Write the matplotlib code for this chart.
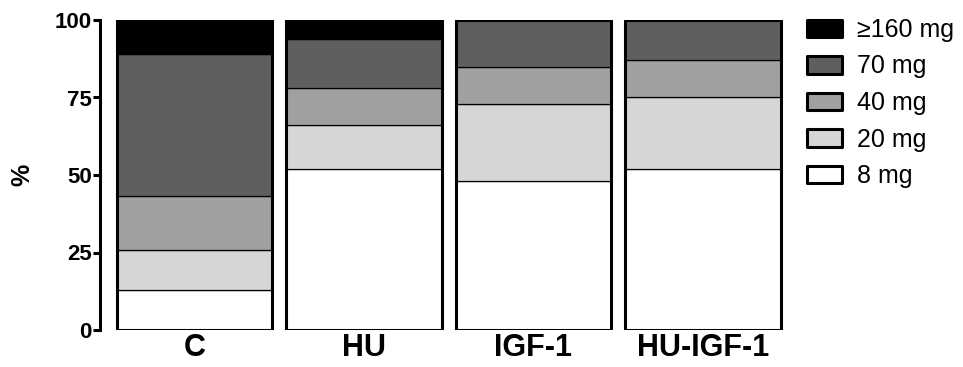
import numpy as np
import matplotlib.pyplot as plt

plt.rcParams['font.family'] = ['Liberation Sans', 'DejaVu Sans']

groups = ['C', 'HU', 'IGF-1', 'HU-IGF-1']
doses = ['8 mg', '20 mg', '40 mg', '70 mg', '\u2265160 mg']
# percent of each dose class per group (bottom to top)
mg8 = [13, 52, 48, 52]
mg20 = [12.7, 14, 25, 23.2]
mg40 = [17.5, 12.1, 11.8, 11.9]
mg70 = [45.8, 15.7, 15.2, 12.9]
mg160 = [11, 6.2, 0, 0]
colors = ['#ffffff', '#d6d6d6', '#a0a0a0', '#5f5f5f', '#000000']
yticks = [0, 25, 50, 75, 100]

series = [mg8, mg20, mg40, mg70, mg160]

fig = plt.figure(figsize=(9.63, 3.67), dpi=100)
ax = fig.add_axes([100 / 963, 37 / 367, (787.75 - 100) / 963, 310 / 367])

x = np.arange(len(groups))
w = 0.915
bottom = np.zeros(len(groups))
handles = []
for vals, col, lab in zip(series, colors, doses):
    b = ax.bar(x, vals, w, bottom=bottom, color=col, edgecolor='black',
               linewidth=0.9, label=lab)
    handles.append(b)
    bottom += np.array(vals)

# thick outline around each whole bar
ax.bar(x, bottom, w, fill=False, edgecolor='black', linewidth=2.2,
       joinstyle='round', zorder=3)

ax.set_xlim(-0.5575, 3.5)
ax.set_ylim(0, 100)
ax.set_yticks(yticks, labels=[str(v) for v in yticks], fontsize=16, fontweight='bold')
ax.set_xticks(x, labels=groups, fontsize=22, fontweight='bold')
ax.tick_params(axis='x', length=0, pad=2)
ax.tick_params(axis='y', length=5, width=2.2, pad=1)
for s in ['top', 'right', 'bottom']:
    ax.spines[s].set_visible(False)
ax.spines['left'].set_linewidth(2.2)

ax.set_ylabel('%', fontsize=18, fontweight='bold')
ax.yaxis.set_label_coords(-66 / 687.75, 0.5)

leg = ax.legend(handles[::-1], doses[::-1], loc='upper left',
                bbox_to_anchor=(807 / 963, 349 / 367), bbox_transform=fig.transFigure,
                frameon=False, fontsize=18, handlelength=1.4, handleheight=0.7,
                handletextpad=0.6, labelspacing=0.5, borderaxespad=0, borderpad=0)
for p in leg.get_patches():
    p.set_linewidth(2.2)
    p.set_joinstyle('round')

fig.savefig('out.png', dpi=100)
